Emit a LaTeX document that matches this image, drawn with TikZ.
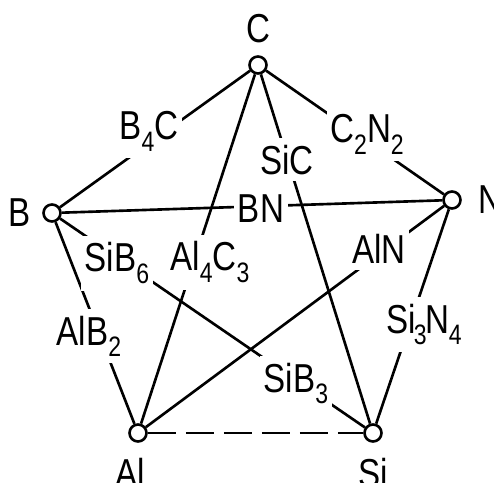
\documentclass[tikz,border=0pt]{standalone}
\usepackage{fontspec}
\setmainfont{Liberation Sans}[FakeStretch=0.82]
\usetikzlibrary{positioning}
\newcommand{\idx}[1]{\raisebox{-6.5pt}{\fontsize{16}{16}\selectfont #1}}

\begin{document}
\begin{tikzpicture}[
  x=0.02cm, y=-0.02cm,
  elem/.style={circle, draw, fill=white, inner sep=0pt, minimum size=0.34cm},
  sym/.style={inner sep=0pt, font=\fontsize{23}{27}\selectfont},
  cmp/.style={fill=white, inner xsep=2pt, inner ysep=4pt, anchor=base, font=\fontsize{23}{27}\selectfont},
  line width=1.5pt
]
\useasboundingbox (0,0) rectangle (494,483);

% elements
\node[elem] (C) at (258,65) {};
\node[elem] (B) at (52,213) {};
\node[elem] (N) at (452,200) {};
\node[elem] (Al) at (138,433) {};
\node[elem] (Si) at (373,433) {};

\node[sym, above=0.22cm of C] (lC) {C};
\node[sym, left=0.21cm of B] (lB) {B};
\node[sym, right=0.31cm of N] (lN) {N};
\node[sym, below=0.28cm of Al, xshift=-0.16cm] (lAl) {Al};
\node[sym, below=0.28cm of Si] (lSi) {Si};

% binary systems
\draw (C) -- (B);
\draw (C) -- (N);
\draw (C) -- (Al);
\draw (C) -- (Si);
\draw (B) -- (N);
\draw (B) -- (Al);
\draw (B) -- (Si);
\draw (N) -- (Al);
\draw (N) -- (Si);
\draw[dash pattern=on 0.56cm off 0.2cm] (Al) -- (Si);

% compounds
\node[cmp] (b4c) at (149,140) {B\idx{4}C};
\node[cmp] (sic) at (287,174) {SiC};
\node[cmp] (c2n2) at (367,143) {C\idx{2}N\idx{2}};
\node[cmp] (bn) at (261,222) {BN};
\node[cmp] (sib6) at (117,272) {SiB\idx{6}};
\node[cmp] (al4c3) at (210,271) {Al\idx{4}C\idx{3}};
\node[cmp] (aln) at (379,263) {AlN};
\node[cmp] (alb2) at (89,345) {AlB\idx{2}};
\node[cmp] (si3n4) at (424,333) {Si\kern-1pt\idx{3}\kern-1pt N\idx{4}};
\node[cmp] (sib3) at (296,392) {SiB\idx{3}};
\end{tikzpicture}
\end{document}
